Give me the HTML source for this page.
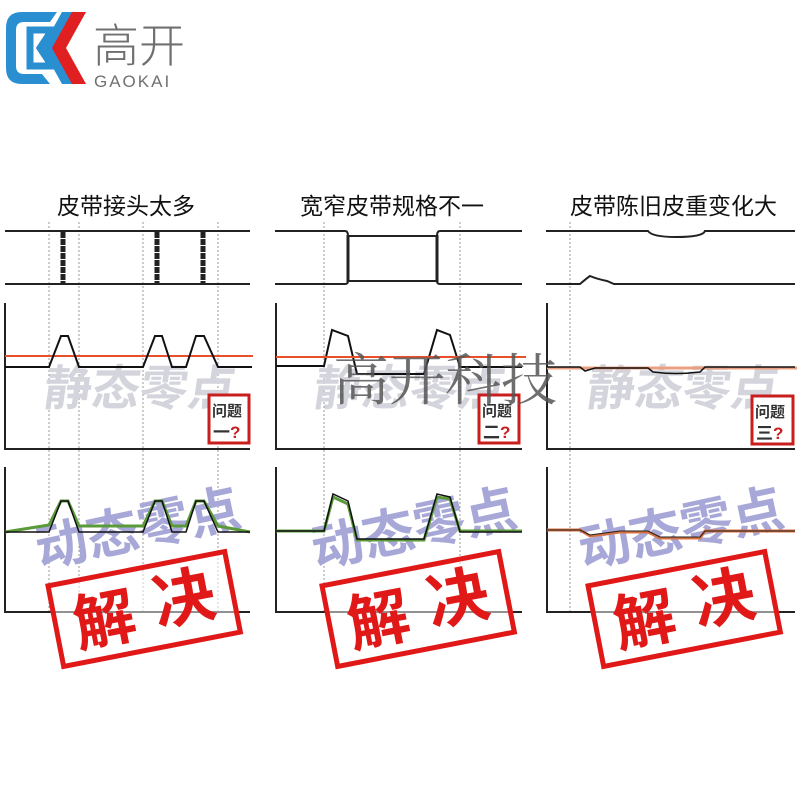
<!DOCTYPE html>
<html><head><meta charset="utf-8"><style>
html,body{margin:0;padding:0;background:#fff;width:800px;height:800px;overflow:hidden}
text{font-family:"Liberation Sans","Noto Sans CJK SC",sans-serif}
</style></head><body>
<svg width="800" height="800" viewBox="0 0 800 800" xmlns="http://www.w3.org/2000/svg">
<!-- logo -->
<path d="M57 12 L22 12 Q6 12 6 28 L6 68 Q6 84 22 84 L50 84 L42 74 L24 74 Q16 74 16 66 L16 30 Q16 22 24 22 L50 22 Z" fill="#2a8fd0"/>
<path d="M30 30 L52 30 L40 48 L52 66 L30 66 Z" fill="none" stroke="#2a8fd0" stroke-width="7"/>
<path d="M62 12 L74 12 L54 48 L74 84 L62 84 L42 48 Z" fill="#2a8fd0"/>
<path d="M72 12 L86 12 L66 48 L86 84 L72 84 L52 48 Z" fill="#e02020"/>
<text x="93" y="62" font-size="46" fill="#707070" font-weight="300">高开</text>
<text x="94" y="87" font-size="17" fill="#707070" letter-spacing="2">GAOKAI</text>

<!-- titles -->
<text x="57" y="214" font-size="23" fill="#111">皮带接头太多</text>
<text x="300" y="214" font-size="23" fill="#111">宽窄皮带规格不一</text>
<text x="570" y="214" font-size="23" fill="#111">皮带陈旧皮重变化大</text>

<g stroke="#999" stroke-width="1" stroke-dasharray="2,2" fill="none">
<line x1="49" y1="222" x2="49" y2="612"/><line x1="79" y1="222" x2="79" y2="612"/>
<line x1="143" y1="222" x2="143" y2="612"/><line x1="218" y1="222" x2="218" y2="612"/>
<line x1="324" y1="222" x2="324" y2="612"/><line x1="460" y1="222" x2="460" y2="612"/>
<line x1="570" y1="222" x2="570" y2="612"/>
</g>

<!-- watermarks -->
<g font-size="48" font-weight="bold" fill="#d4d4dc">
<text transform="translate(42,405) skewX(-8)">静态零点</text>
<text transform="translate(312,405) skewX(-8)">静态零点</text>
<text transform="translate(585,405) skewX(-8)">静态零点</text>
</g>
<g font-size="52" font-weight="bold" fill="#a8a8d8">
<text transform="translate(40,568) rotate(-12)">动态零点</text>
<text transform="translate(316,568) rotate(-12)">动态零点</text>
<text transform="translate(583,568) rotate(-12)">动态零点</text>
</g>

<g stroke="#222" stroke-width="2" fill="none">
<line x1="5" y1="231" x2="250" y2="231"/><line x1="5" y1="284" x2="250" y2="284"/>
<path d="M275 231 H345 Q348 231 348 236 H437 Q437 231 440 231 H522"/>
<path d="M275 284 H345 Q348 284 348 281 H437 Q437 284 440 284 H522"/>
<line x1="348" y1="235" x2="348" y2="282" stroke-width="3"/>
<line x1="437" y1="235" x2="437" y2="282" stroke-width="3"/>
<path d="M546 231 H648 Q652 237 676 237 Q703 237 705 231 H795"/>
<path d="M546 284 H580 Q587 278 590 276 Q597 279 607 281 L614 284 H795"/>
<path d="M5 303 V449 H250"/><path d="M5 467 V612 H250"/>
<path d="M276 303 V449 H522"/><path d="M276 467 V612 H522"/>
<path d="M547 303 V449 H795"/><path d="M547 467 V612 H795"/>
</g>
<g stroke="#222" stroke-width="5" stroke-dasharray="6,1">
<line x1="63" y1="232" x2="63" y2="283"/><line x1="157" y1="232" x2="157" y2="283"/><line x1="203" y1="232" x2="203" y2="283"/>
</g>

<!-- static curves -->
<line x1="5" y1="356" x2="253" y2="356" stroke="#e8502a" stroke-width="2"/>
<path d="M5 367 H49 L61 336 H68 L79 367 H143 L155 336 H162 L172 367 H186 L196 336 H204 L218 367 H252" stroke="#111" stroke-width="2" fill="none"/>
<path d="M276 366 H324 L332 330 L348 336 L357 374 H424 L437 330 L450 335 L460 367 H522" stroke="#111" stroke-width="2" fill="none"/>
<line x1="276" y1="357" x2="526" y2="357" stroke="#e8502a" stroke-width="2"/>
<line x1="547" y1="368" x2="797" y2="368" stroke="#e8a080" stroke-width="3"/>
<path d="M547 367 H580 L585 371 L595 368 H648 L653 372 Q676 375 700 372 L705 367 H795" stroke="#111" stroke-width="1.5" fill="none"/>

<!-- dynamic curves -->
<path d="M5 532 L49 525 L61 501 H68 L79 526 H143 L155 501 H162 L172 526 H186 L196 501 H204 L218 526 L250 532" stroke="#5a9a3a" stroke-width="3" fill="none"/>
<path d="M5 532 H49 L61 501 H68 L79 532 H143 L155 501 H162 L172 532 H186 L196 501 H204 L218 532 H250" stroke="#111" stroke-width="1.5" fill="none"/>
<path d="M276 531 H324 L333 497 L348 504 L357 540 H424 L437 497 L450 499 L460 531 H522" stroke="#5a9a3a" stroke-width="3" fill="none"/>
<path d="M276 531 H324 L333 494 L348 501 L357 539 H424 L437 494 L450 497 L460 532 H522" stroke="#111" stroke-width="1.5" fill="none"/>
<path d="M547 530 H580 L590 536 L620 532 H648 L660 538 H700 L705 531 H795" stroke="#d87040" stroke-width="3" fill="none"/>
<path d="M547 530 H580 L590 535 L620 531 H648 L660 537 H700 L705 531 H795" stroke="#222" stroke-width="1" fill="none"/>

<!-- question stamps -->
<g font-weight="bold">
<rect x="209" y="395" width="40" height="48" fill="#fff" stroke="#c81e1e" stroke-width="3"/>
<text x="212" y="416" font-size="15" fill="#333">问题</text><text x="213" y="438" font-size="17" fill="#333">一<tspan fill="#c81e1e">?</tspan></text>
<rect x="479" y="395" width="40" height="48" fill="#fff" stroke="#c81e1e" stroke-width="3"/>
<text x="482" y="416" font-size="15" fill="#333">问题</text><text x="483" y="438" font-size="17" fill="#333">二<tspan fill="#c81e1e">?</tspan></text>
<rect x="752" y="396" width="41" height="48" fill="#fff" stroke="#c81e1e" stroke-width="3"/>
<text x="755" y="417" font-size="15" fill="#333">问题</text><text x="756" y="439" font-size="17" fill="#333">三<tspan fill="#c81e1e">?</tspan></text>
</g>

<!-- 解决 stamps -->
<g>
<g transform="translate(144,608) rotate(-11)">
<rect x="-90" y="-40" width="180" height="82" fill="#fff" fill-opacity="0.5" stroke="#e01818" stroke-width="5"/>
<text x="-72" y="26" font-size="62" font-weight="bold" fill="#e01818">解</text><text x="10" y="20" font-size="62" font-weight="bold" fill="#e01818">决</text>
</g>
<g transform="translate(418,608) rotate(-11)">
<rect x="-90" y="-40" width="180" height="82" fill="#fff" fill-opacity="0.5" stroke="#e01818" stroke-width="5"/>
<text x="-72" y="26" font-size="62" font-weight="bold" fill="#e01818">解</text><text x="10" y="20" font-size="62" font-weight="bold" fill="#e01818">决</text>
</g>
<g transform="translate(684,608) rotate(-11)">
<rect x="-90" y="-40" width="180" height="82" fill="#fff" fill-opacity="0.5" stroke="#e01818" stroke-width="5"/>
<text x="-72" y="26" font-size="62" font-weight="bold" fill="#e01818">解</text><text x="10" y="20" font-size="62" font-weight="bold" fill="#e01818">决</text>
</g>
</g>

<text x="333" y="400" font-size="56" fill="#555" fill-opacity="0.85" style="font-family:'Liberation Serif','Noto Serif CJK SC',serif">高开科技</text>
</svg>
</body></html>
